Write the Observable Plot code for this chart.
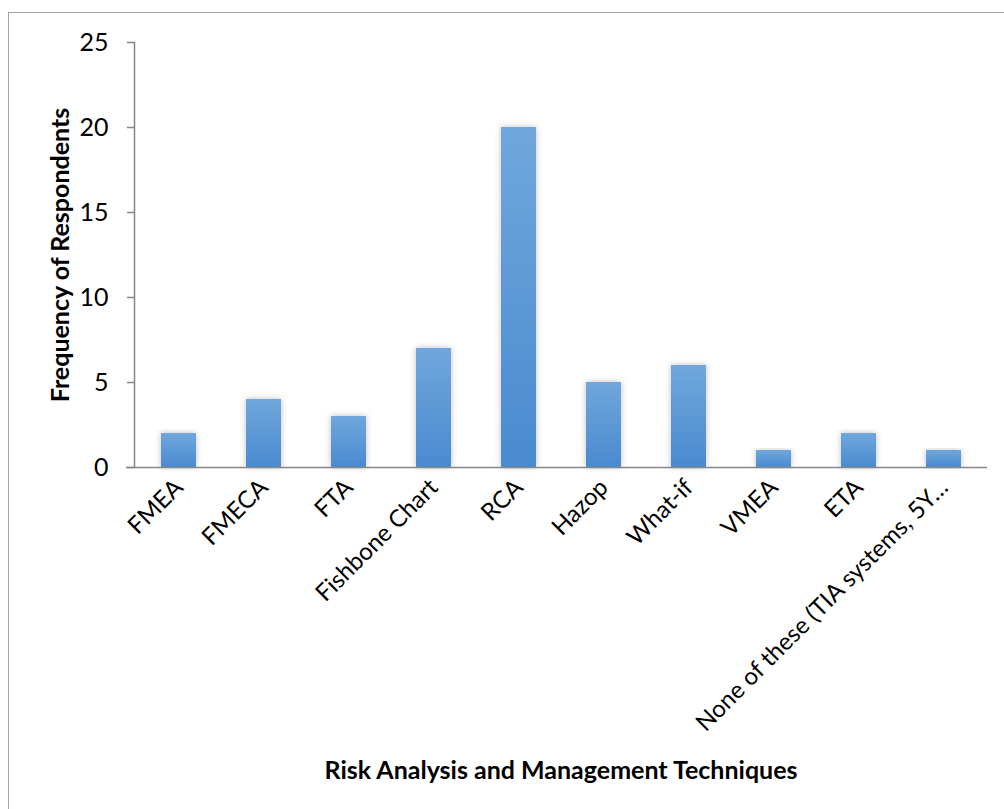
<!DOCTYPE html>
<html>
<head>
<meta charset="utf-8">
<script src="https://cdn.jsdelivr.net/npm/d3@7"></script>
<script src="https://cdn.jsdelivr.net/npm/@observablehq/plot@0.6"></script>
<style>
  html, body { margin: 0; padding: 0; background: #fff; }
  #wrap { position: relative; width: 1004px; height: 809px; overflow: hidden; }
  #frame { position: absolute; left: 8px; top: 12px; width: 1100px; height: 900px; border: 1.5px solid #a6a6a6; box-sizing: border-box; pointer-events: none; }
  svg { font-family: Lato, "Open Sans", sans-serif; }
</style>
</head>
<body>
<div id="wrap"><div id="frame"></div></div>
<script>
const categories = ["FMEA", "FMECA", "FTA", "Fishbone Chart", "RCA", "Hazop", "What-if", "VMEA", "ETA", "None of these (TIA systems, 5Y…"];
const values = [2, 4, 3, 7, 20, 5, 6, 1, 2, 1];
const yTicks = [0, 5, 10, 15, 20, 25];
const xTitle = ["Risk Analysis and Management Techniques"];
const yTitle = ["Frequency of Respondents"];

const data = categories.map((c, i) => ({category: c, value: values[i]}));

function defs() {
  const ns = "http://www.w3.org/2000/svg";
  const d = document.createElementNS(ns, "defs");
  d.innerHTML = `
    <linearGradient id="barGrad" x1="0" y1="0" x2="0" y2="1">
      <stop offset="0%" stop-color="#70a7dc"/>
      <stop offset="100%" stop-color="#4a8ad0"/>
    </linearGradient>
    <filter id="shadow" x="-30%" y="-10%" width="160%" height="120%">
      <feDropShadow dx="0" dy="0" stdDeviation="3" flood-color="#000" flood-opacity="0.25"/>
    </filter>`;
  return d;
}

const chart = Plot.plot({
  width: 1004,
  height: 809,
  marginLeft: 134,
  marginRight: 17,
  marginTop: 42,
  marginBottom: 342,
  style: {fontFamily: "Lato, 'Open Sans', sans-serif", fontSize: "25px", color: "#000", background: "transparent"},
  x: {domain: categories, padding: 0},
  y: {domain: [0, 25]},
  marks: [
    defs,
    Plot.barY(data, {x: "category", y: "value", fill: "url(#barGrad)", insetLeft: 25, insetRight: 25}),
    Plot.frame({anchor: "left", stroke: "#868686", strokeWidth: 1.5, strokeOpacity: 1}),
    Plot.ruleY([0], {stroke: "#868686", strokeWidth: 1.5, insetLeft: -8}),
    Plot.axisY(yTicks, {tickSize: 7, tickPadding: 19, stroke: "#868686", strokeWidth: 1.5, fontSize: 25, fill: "#000", label: null}),
    Plot.axisX({tickSize: 0, tickPadding: 16, tickRotate: -45, fontSize: 24, fill: "#000", label: null, lineWidth: Infinity}),
    Plot.text(xTitle, {frameAnchor: "bottom", dy: 303, fontWeight: "bold", fontSize: 25, fill: "#000", textAnchor: "middle", lineAnchor: "middle"}),
    Plot.text(yTitle, {frameAnchor: "left", dx: -74, rotate: -90, textAnchor: "middle", lineAnchor: "middle", fontWeight: "bold", fontSize: 25, fill: "#000"})
  ]
});
chart.style.position = "absolute";
chart.style.left = "0";
chart.style.top = "0";
chart.querySelectorAll('g[aria-label="bar"] rect').forEach(r => r.setAttribute("filter", "url(#shadow)"));
document.getElementById("wrap").appendChild(chart);
</script>
</body>
</html>
